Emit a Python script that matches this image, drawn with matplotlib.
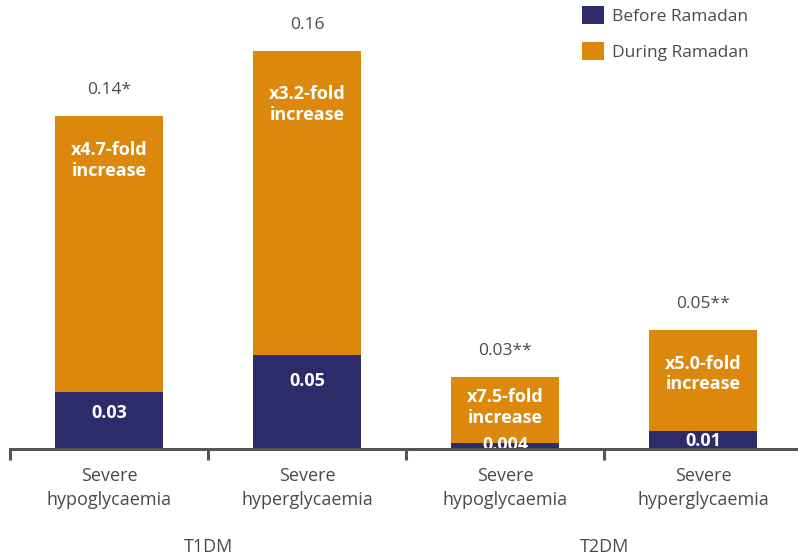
import numpy as np
import matplotlib
matplotlib.use("Agg")
from matplotlib import pyplot as plt

# data (rate of events)
categories = ["Severe\nhypoglycaemia", "Severe\nhyperglycaemia",
              "Severe\nhypoglycaemia", "Severe\nhyperglycaemia"]
groups = ["T1DM", "T2DM"]
before = [0.029, 0.048, 0.003, 0.009]
during = [0.142, 0.156, 0.034, 0.052]
before_labels = ["0.03", "0.05", "0.004", "0.01"]
total_labels = ["0.14*", "0.16", "0.03**", "0.05**"]
fold_labels = ["x4.7-fold\nincrease", "x3.2-fold\nincrease",
               "x7.5-fold\nincrease", "x5.0-fold\nincrease"]

navy = "#2e2b6b"
orange = "#db880c"
grey = "#4a4a4a"
axis_col = "#555555"

plt.rcParams["font.family"] = ["Open Sans", "DejaVu Sans"]

fig = plt.figure(figsize=(7.98, 5.55), dpi=100)
ax = fig.add_axes([10 / 798, 106 / 555, 788 / 798, 449 / 555])
ax.set_xlim(0, 788 / 198)
ax.set_ylim(0, 449 / 1950)

x = np.arange(len(categories)) + 0.5
w = 0.55
b1 = ax.bar(x, before, w, color=navy, label="Before Ramadan")
b2 = ax.bar(x, during, w, bottom=before, color=orange, label="During Ramadan")

# pixel offsets (converted to points) for the labels
px = 0.72
fold_off = [34, 42, 20, 33]
before_off = [21, 26, 2, 10]

for i in range(len(x)):
    top = before[i] + during[i]
    ax.annotate(total_labels[i], (x[i], top), xytext=(0, 26 * px),
                textcoords="offset points", ha="center", va="center",
                fontsize=12.5, color=grey)
    ax.annotate(fold_labels[i], (x[i], top), xytext=(0, -(fold_off[i] + 11) * px),
                textcoords="offset points", ha="center", va="center",
                fontsize=13, color="white", fontweight="bold", linespacing=1.2)
    ax.annotate(before_labels[i], (x[i], before[i]), xytext=(0, -before_off[i] * px),
                textcoords="offset points", ha="center", va="center",
                fontsize=13, color="white", fontweight="bold", zorder=1)
    ax.annotate(categories[i], (x[i], 0), xytext=(0, -39 * px),
                textcoords="offset points", ha="center", va="center",
                fontsize=13, color=grey, linespacing=1.4, annotation_clip=False)

for j, g in enumerate(groups):
    ax.annotate(g, (1 + 2 * j, 0), xytext=(0, -98 * px),
                textcoords="offset points", ha="center", va="center",
                fontsize=13, color=grey, annotation_clip=False)

for s in ["top", "right", "left"]:
    ax.spines[s].set_visible(False)
ax.spines["bottom"].set_color(axis_col)
ax.spines["bottom"].set_linewidth(2.2)
ax.set_yticks([])
ax.set_xticks(np.arange(0, 4))
ax.set_xticklabels([])
ax.tick_params(axis="x", direction="out", length=8, width=2.2, color=axis_col)

ax.legend(handles=[b1, b2], loc="upper left", bbox_to_anchor=(582 / 798, 1 - 6 / 555),
          bbox_transform=fig.transFigure, frameon=False, fontsize=12.5,
          handlelength=1.25, handleheight=1.25, handletextpad=0.5,
          labelspacing=0.95, borderpad=0, borderaxespad=0, labelcolor=grey)

plt.savefig("out.png", dpi=100)
